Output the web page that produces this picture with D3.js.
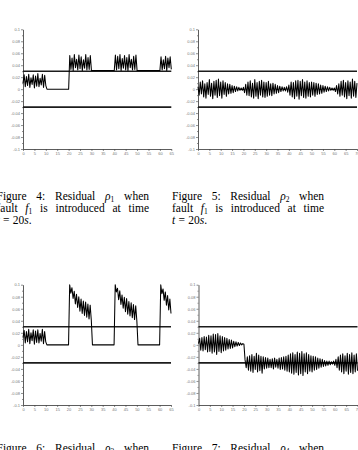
<!DOCTYPE html>
<html><head><meta charset="utf-8">
<script src="https://cdn.jsdelivr.net/npm/d3@7"></script>
<style>html,body{margin:0;padding:0;background:#fff;overflow:hidden}svg{display:block}</style>
</head><body><svg id="c" width="358" height="450"></svg>
<script>
// sampling step of the residual records (seconds)
const timeStep = 0.5;

// Residual rho1 (Figure 4), t = 0..65 s
const rho1 = [
  0.010, 0.024, 0.004, 0.021, 0.006, 0.025, 0.003, 0.019, 0.008, 0.024, 0.002, 0.022, 0.005, 0.026, 0.004, 0.018, 0.007, 0.025, 0.003, 0.023, 0.006,
  0, 0, 0, 0, 0, 0, 0, 0, 0, 0, 0, 0, 0, 0, 0, 0, 0, 0, 0, 0,
  0.056, 0.033, 0.052, 0.031, 0.058, 0.036, 0.050, 0.032, 0.057, 0.034, 0.054, 0.031, 0.049, 0.035, 0.058, 0.032, 0.053, 0.033, 0.056, 0.031,
  0.031, 0.031, 0.031, 0.031, 0.031, 0.031, 0.031, 0.031, 0.031, 0.031, 0.031, 0.031, 0.031, 0.031, 0.031, 0.031, 0.031, 0.031, 0.031, 0.031,
  0.057, 0.032, 0.055, 0.034, 0.058, 0.031, 0.051, 0.035, 0.056, 0.032, 0.053, 0.031, 0.058, 0.036, 0.050, 0.032, 0.055, 0.033, 0.057, 0.031,
  0.031, 0.031, 0.031, 0.031, 0.031, 0.031, 0.031, 0.031, 0.031, 0.031, 0.031, 0.031, 0.031, 0.031, 0.031, 0.031, 0.031, 0.031, 0.031, 0.031,
  0.054, 0.032, 0.049, 0.034, 0.055, 0.031, 0.052, 0.036, 0.054, 0.033
];

// Residual rho2 (Figure 5), t = 0..70 s
const rho2 = [
  0.004, -0.010, 0.012, -0.008, 0.014, -0.013, 0.009, -0.015, 0.011, -0.009, 0.016, -0.012, 0.010, -0.016, 0.013, -0.010, 0.015, -0.014, 0.017, -0.011,
  0.012, -0.015, 0.014, -0.009, 0.011, -0.012, 0.009, -0.008, 0.008, -0.007, 0.006, -0.006, 0.005, -0.004, 0.004, -0.003, 0.003, -0.002, 0.002, -0.002, 0.003,
  -0.006, 0.008, -0.010, 0.012, -0.011, 0.014, -0.013, 0.010, -0.015, 0.016, -0.012, 0.011, -0.016, 0.013, -0.010, 0.015, -0.013, 0.012, -0.014, 0.011,
  -0.012, 0.013, -0.010, 0.009, -0.011, 0.010, -0.008, 0.008, -0.007, 0.006, -0.006, 0.005, -0.004, 0.004, -0.003, 0.003, -0.003, 0.004, -0.005, 0.007,
  -0.010, 0.012, -0.013, 0.011, -0.016, 0.014, -0.012, 0.015, -0.017, 0.013, -0.011, 0.016, -0.014, 0.012, -0.015, 0.014, -0.012, 0.011, -0.013, 0.012,
  -0.010, 0.011, -0.012, 0.010, -0.009, 0.009, -0.008, 0.007, -0.007, 0.006, -0.005, 0.005, -0.004, 0.004, -0.003, 0.003, -0.002, 0.002, -0.002, 0.002,
  -0.004, 0.006, -0.008, 0.009, -0.012, 0.013, -0.010, 0.015, -0.013, 0.011, -0.016, 0.014, -0.011, 0.012, -0.015, 0.017, -0.012, 0.013, -0.014, 0.010
];

// Residual rho3 (Figure 6), t = 0..65 s
const rho3 = [
  0.012, 0.024, 0.003, 0.022, 0.005, 0.026, 0.002, 0.020, 0.007, 0.025, 0.001, 0.023, 0.004, 0.025, 0.003, 0.019, 0.006, 0.026, 0.002, 0.022, 0.005,
  0, 0, 0, 0, 0, 0, 0, 0, 0, 0, 0, 0, 0, 0, 0, 0, 0, 0, 0, 0,
  0.100, 0.086, 0.095, 0.077, 0.089, 0.068, 0.084, 0.062, 0.080, 0.056, 0.076, 0.052, 0.073, 0.049, 0.071, 0.046, 0.068, 0.043, 0.066, 0.041,
  0, 0, 0, 0, 0, 0, 0, 0, 0, 0, 0, 0, 0, 0, 0, 0, 0, 0, 0, 0,
  0.100, 0.088, 0.094, 0.075, 0.090, 0.067, 0.083, 0.061, 0.079, 0.055, 0.077, 0.051, 0.072, 0.048, 0.070, 0.045, 0.067, 0.042, 0.065, 0.040,
  0, 0, 0, 0, 0, 0, 0, 0, 0, 0, 0, 0, 0, 0, 0, 0, 0, 0, 0, 0,
  0.100, 0.085, 0.093, 0.074, 0.088, 0.066, 0.082, 0.058, 0.076, 0.052
];

// Residual rho4 (Figure 7), t = 0..70 s
const rho4 = [
  0.002, 0.011, -0.009, 0.012, -0.010, 0.014, -0.008, 0.013, -0.012, 0.016, -0.011, 0.015, -0.014, 0.018, -0.012, 0.017, -0.016, 0.019, -0.011, 0.015,
  -0.013, 0.014, -0.010, 0.012, -0.009, 0.011, -0.007, 0.009, -0.006, 0.008, -0.005, 0.006, -0.003, 0.005, -0.002, 0.004, -0.001, 0.003, 0.000, 0.002, 0.001,
  -0.025, -0.038, -0.020, -0.042, -0.018, -0.044, -0.016, -0.046, -0.019, -0.041, -0.014, -0.045, -0.017, -0.043, -0.019, -0.047, -0.020, -0.040, -0.021, -0.039,
  -0.022, -0.038, -0.024, -0.038, -0.023, -0.040, -0.022, -0.037, -0.024, -0.039, -0.022, -0.041, -0.021, -0.040, -0.020, -0.042, -0.019, -0.044, -0.017, -0.045,
  -0.015, -0.047, -0.013, -0.049, -0.016, -0.046, -0.012, -0.050, -0.014, -0.048, -0.011, -0.051, -0.015, -0.045, -0.013, -0.048, -0.016, -0.044, -0.018, -0.045,
  -0.019, -0.042, -0.020, -0.041, -0.022, -0.039, -0.023, -0.037, -0.024, -0.036, -0.026, -0.035, -0.027, -0.034, -0.027, -0.033, -0.028, -0.032, -0.027, -0.034,
  -0.024, -0.038, -0.020, -0.042, -0.017, -0.045, -0.015, -0.048, -0.018, -0.044, -0.014, -0.049, -0.016, -0.046, -0.013, -0.048, -0.017, -0.045, -0.015, -0.043
];

// detection thresholds
const thresholds = [0.03, -0.03];

// tick values and labels
const yTickValues = [-0.1, -0.08, -0.06, -0.04, -0.02, 0, 0.02, 0.04, 0.06, 0.08, 0.1];
const yTickLabels = ["-0.1", "-0.08", "-0.06", "-0.04", "-0.02", "0", "0.02", "0.04", "0.06", "0.08", "0.1"];
const yMinorTicks = [-0.09, -0.07, -0.05, -0.03, -0.01, 0.01, 0.03, 0.05, 0.07, 0.09];
const xTicks65 = [0, 5, 10, 15, 20, 25, 30, 35, 40, 45, 50, 55, 60, 65];
const xTicks70 = [0, 5, 10, 15, 20, 25, 30, 35, 40, 45, 50, 55, 60, 65, 70];

// captions ({..} italic, [..] subscript)
const caption4 = ["Figure 4: Residual {ρ}[1] when", "fault {f}[1] is introduced at time", "{t} = 20{s}."];
const caption5 = ["Figure 5: Residual {ρ}[2] when", "fault {f}[1] is introduced at time", "{t} = 20{s}."];
const caption6 = ["Figure 6: Residual {ρ}[3] when"];
const caption7 = ["Figure 7: Residual {ρ}[4] when"];

const svg = d3.select("#c");

const panels = [
  {data: rho1, xMax: 65, ticks: xTicks65, x0: 23, x1: 171.3, yTop: 29.3, yBot: 149},
  {data: rho2, xMax: 70, ticks: xTicks70, x0: 198, x1: 357, yTop: 29.3, yBot: 149},
  {data: rho3, xMax: 65, ticks: xTicks65, x0: 23, x1: 171, yTop: 284.7, yBot: 405},
  {data: rho4, xMax: 70, ticks: xTicks70, x0: 198.5, x1: 357.5, yTop: 284.7, yBot: 405}
];

panels.forEach(p => {
  const x = d3.scaleLinear().domain([0, p.xMax]).range([p.x0, p.x1]);
  const y = d3.scaleLinear().domain([-0.1, 0.1]).range([p.yBot, p.yTop]);
  const g = svg.append("g");

  g.append("g").attr("transform", `translate(${p.x0},0)`)
    .call(d3.axisLeft(y).tickValues(yTickValues).tickFormat((d, i) => yTickLabels[i]).tickSize(2).tickSizeOuter(0).tickPadding(1));
  g.append("g").attr("transform", `translate(${p.x0},0)`)
    .call(d3.axisLeft(y).tickValues(yMinorTicks).tickFormat("").tickSize(1).tickSizeOuter(0))
    .select(".domain").remove();
  g.append("g").attr("transform", `translate(0,${p.yBot})`)
    .call(d3.axisBottom(x).tickValues(p.ticks).tickSize(2).tickSizeOuter(0).tickPadding(1));

  g.selectAll(".domain").attr("stroke", "#333").attr("stroke-width", 0.8);
  g.selectAll(".tick line").attr("stroke", "#444").attr("stroke-width", 0.6);
  g.selectAll(".tick text").attr("font-size", 4).attr("font-family", "Liberation Sans, Arial, sans-serif").attr("fill", "#777");

  thresholds.forEach(th => {
    g.append("line").attr("x1", x(0)).attr("x2", x(p.xMax)).attr("y1", y(th)).attr("y2", y(th))
      .attr("stroke", "#1c1c1c").attr("stroke-width", 1.6);
  });

  const line = d3.line().x((d, i) => x(i * timeStep)).y(d => y(d));
  g.append("path").datum(p.data).attr("d", line).attr("fill", "none")
    .attr("stroke", "#000").attr("stroke-width", 1.05).attr("stroke-linejoin", "round");
});

// caption typesetting (justified)
const FS = 11.5;
function parseWord(w) {
  const runs = [];
  const re = /\{([^}]*)\}|\[([^\]]*)\]|([^{\[]+)/g;
  let m;
  while ((m = re.exec(w))) {
    if (m[1] !== undefined) runs.push({t: m[1], i: true});
    else if (m[2] !== undefined) runs.push({t: m[2], s: true});
    else runs.push({t: m[3]});
  }
  return runs;
}
function setLine(str, x0, x1, yb, justify) {
  const words = str.split(" ");
  const nodes = words.map(w => {
    const t = svg.append("text").attr("y", yb)
      .attr("font-family", "Liberation Serif, Times New Roman, serif")
      .attr("font-size", FS).attr("fill", "#000");
    parseWord(w).forEach(r => {
      const ts = t.append("tspan").text(r.t);
      if (r.i) ts.attr("font-style", "italic");
      if (r.s) ts.attr("font-size", 7.5).attr("dy", 2.2);
    });
    return t;
  });
  const widths = nodes.map(n => n.node().getComputedTextLength());
  const total = d3.sum(widths);
  const gap = justify && words.length > 1 ? (x1 - x0 - total) / (words.length - 1) : 3.3;
  let cx = x0;
  nodes.forEach((n, i) => { n.attr("x", cx); cx += widths[i] + gap; });
}
function setCaption(lines, x0, x1, yb0, lh) {
  lines.forEach((l, i) => setLine(l, x0, x1, yb0 + i * lh, i < lines.length - 1 || lines.length === 1));
}
setCaption(caption4, -3.5, 149, 199.5, 12.2);
setCaption(caption5, 172, 324, 199.5, 12.2);
setCaption(caption6, -3.5, 149, 451.7, 12.2);
setCaption(caption7, 172, 324, 451.7, 12.2);
</script>
</body></html>
